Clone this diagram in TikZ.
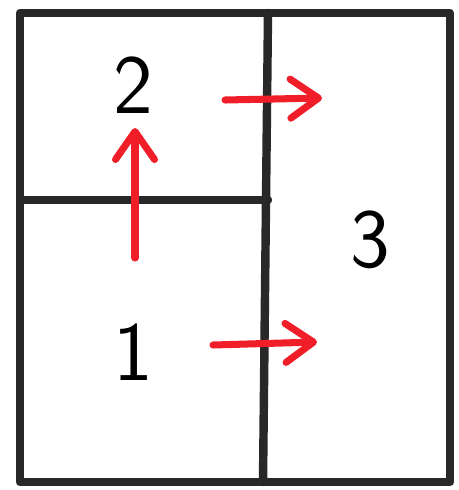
\documentclass[tikz,border=0pt]{standalone}
\usepackage{xcolor}
\usepackage{tikz}
\usetikzlibrary{arrows.meta}

\definecolor{penred}{RGB}{240,30,40}
\definecolor{penblack}{RGB}{40,40,40}

\begin{document}
\begin{tikzpicture}[
  x=0.02cm, y=-0.02cm,
  wall/.style={draw=penblack, line width=4.8pt, line join=round, line cap=round},
  region/.style={font=\sffamily\fontsize{48}{48}\selectfont, text=black, inner sep=0pt},
  move/.style={draw=penred, line width=4pt, line cap=round,
    -{Straight Barb[length=5.6mm, width=7.8mm, line width=4pt, round]}}
]
\useasboundingbox (0,0) rectangle (459,490);

% outline and dividers
\draw[wall] (20,13) rectangle (450,482);
\draw[wall] (268,13) -- (263,482);
\draw[wall] (20,200) -- (268,200);

% region labels
\node[region] (r2) at (133,85) {2};
\node[region] (r1) at (133,352) {1};
\node[region] (r3) at (370,240) {3};

% arrow end points
\coordinate (upfrom) at (135,258);
\coordinate (upto) at (135,128);
\coordinate (topfrom) at (225,100);
\coordinate (topto) at (322,98);
\coordinate (lowfrom) at (213,345);
\coordinate (lowto) at (317,342);

\draw[move] (upfrom) -- (upto);
\draw[move] (topfrom) -- (topto);
\draw[move] (lowfrom) -- (lowto);
\end{tikzpicture}
\end{document}
